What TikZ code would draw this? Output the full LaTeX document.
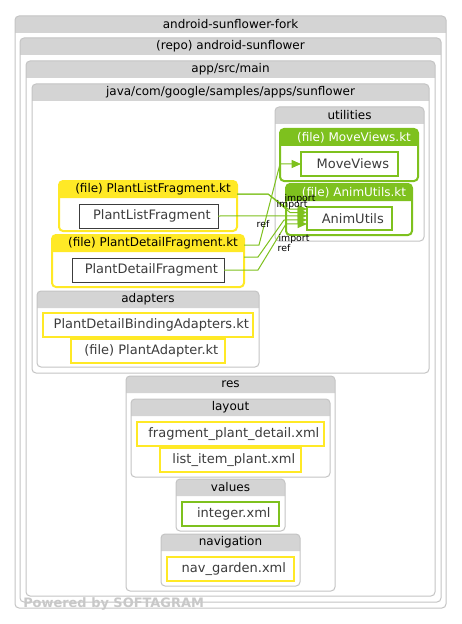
\documentclass[tikz,border=0pt]{standalone}
\usepackage{fontspec}
\setmainfont{DejaVu Sans}
\usetikzlibrary{arrows.meta}
\definecolor{hdgray}{RGB}{212,212,212}
\definecolor{bdgray}{RGB}{196,196,196}
\definecolor{sgreen}{RGB}{126,193,30}
\definecolor{syellow}{RGB}{255,233,38}
\definecolor{leaftext}{RGB}{60,60,60}
\definecolor{powered}{RGB}{200,200,200}

\begin{document}
\begin{tikzpicture}[x=0.75pt,y=-0.75pt]
    \tikzstyle{grp}=[draw=bdgray,line width=0.75pt,rounded corners=3pt,inner sep=0pt,outer sep=0pt]
    \tikzstyle{filebox}=[line width=1.5pt,rounded corners=3pt,inner sep=0pt,outer sep=0pt]
    \tikzstyle{leaf}=[fill=white,text=leaftext,font=\fontsize{9.75}{11}\selectfont,inner sep=0pt,outer sep=0pt]
    \tikzstyle{head}=[font=\fontsize{9}{11}\selectfont,inner sep=0pt]
    \tikzstyle{dep}=[draw=sgreen,line width=0.75pt,-{Triangle[length=7pt,width=6pt]}]
    \tikzstyle{lbl}=[font=\fontsize{7}{8}\selectfont,inner sep=0pt]

    \fill[white] (0,0) rectangle (461,624);
    \useasboundingbox (0,0) rectangle (461,624);

    % folders
    \foreach \n/\xa/\ya/\xb/\yb/\t in {fork/15/16/446/608/{android-sunflower-fork},
            repo/20/38/441/602/{(repo) android-sunflower},
            main/26/61/435/596/{app/src/main},
            java/32/84/429/373/{java/com/google/samples/apps/sunflower},
            utilities/275/107/424/241/utilities,
            adapters/37/291/259/367/adapters,
            res/126/376/335/591/res,
            layout/131/399/330/477/layout,
            values/176/479/285/531/values,
            navigation/161/534/300/586/navigation}{
        \fill[hdgray] (\xa,\ya+17) [rounded corners=3pt] -- (\xa,\ya) -- (\xb,\ya) [sharp corners] -- (\xb,\ya+17) -- cycle;
        \node[grp,minimum width={(\xb-\xa)*0.75pt},minimum height={(\yb-\ya)*0.75pt}] (\n) at ({(\xa+\xb)/2},{(\ya+\yb)/2}) {};
        \node[head] (\n-title) at ({(\xa+\xb)/2},{\ya+8.5}) {\t};
    }

    % files
    \foreach \n/\xa/\ya/\xb/\yb/\col/\tcol/\t in {MoveViewsKt/280/129/418/181/sgreen/white/{(file) MoveViews.kt},
            AnimUtilsKt/286/184/412/235/sgreen/white/{(file) AnimUtils.kt},
            PLFkt/59/181/237/231/syellow/black/{(file) PlantListFragment.kt},
            PDFkt/52/235/244/287/syellow/black/{(file) PlantDetailFragment.kt}}{
        \fill[\col] (\xa,\ya+17) [rounded corners=3pt] -- (\xa,\ya) -- (\xb,\ya) [sharp corners] -- (\xb,\ya+17) -- cycle;
        \node[filebox,draw=\col,minimum width={(\xb-\xa)*0.75pt},minimum height={(\yb-\ya)*0.75pt}] (\n) at ({(\xa+\xb)/2},{(\ya+\yb)/2}) {};
        \node[head,text=\tcol] (\n-title) at ({(\xa+\xb)/2+5},{\ya+8.5}) {\t};
    }

    % elements
    \foreach \n/\xa/\ya/\xb/\yb/\col/\lw/\t in {MoveViews/301/152/398/176/sgreen/1.1/MoveViews,
            AnimUtils/307/207/392/230/sgreen/1.1/AnimUtils,
            PLF/79/204/218/228/leaftext/0.75/PlantListFragment,
            PDF/72/258/224/282/leaftext/0.75/PlantDetailFragment,
            PDBA/43/313/253/337/syellow/1.1/PlantDetailBindingAdapters.kt,
            PAkt/71/339/225/363/syellow/1.1/{(file) PlantAdapter.kt},
            fpd/137/422/324/446/syellow/1.1/fragment\_plant\_detail.xml,
            lip/160/448/301/472/syellow/1.1/list\_item\_plant.xml,
            integer/182/502/279/526/sgreen/1.1/integer.xml,
            navgarden/167/557/294/581/syellow/1.1/nav\_garden.xml}
        \node[leaf,draw=\col,line width=\lw pt,minimum width={(\xb-\xa)*0.75pt},minimum height={(\yb-\ya)*0.75pt}] (\n) at ({(\xa+\xb)/2},{(\ya+\yb)/2}) {\hspace*{5pt}\t};

    % dependencies
    \draw[dep] ([yshift=-9.75pt]PLFkt.north east) -- (268,194) -- (288,209) -- ([yshift=7.1pt]AnimUtils.west);
    \draw[dep] ([yshift=-9.75pt]PLFkt.north east) -- (268,194) -- (290,212.5) -- ([yshift=4.5pt]AnimUtils.west);
    \draw[dep] (PLF.east) -- ([yshift=1.9pt]AnimUtils.west);
    \draw[dep] ([yshift=-7.5pt]PDFkt.north east) -- (259,245) -- (280,164) -- (MoveViews.west);
    \draw[dep] ([yshift=-16.5pt]PDFkt.north east) -- (258,257) -- (284,220) -- ([yshift=-1.1pt]AnimUtils.west);
    \draw[dep] (PDF.east) -- (258,270) -- (286,224) -- ([yshift=-4.1pt]AnimUtils.west);

    \node[lbl] (imp-a) at (300,199) {import};
    \node[lbl] (imp-b) at (292,205) {import};
    \node[lbl] (ref-a) at (263,224) {ref};
    \node[lbl] (imp-c) at (294,239) {import};
    \node[lbl] (ref-b) at (284,248) {ref};

    \node[anchor=west,text=powered,font=\bfseries\fontsize{9.7}{11}\selectfont,inner sep=0pt] (powered) at (23,604) {Powered by SOFTAGRAM};
\end{tikzpicture}
\end{document}
